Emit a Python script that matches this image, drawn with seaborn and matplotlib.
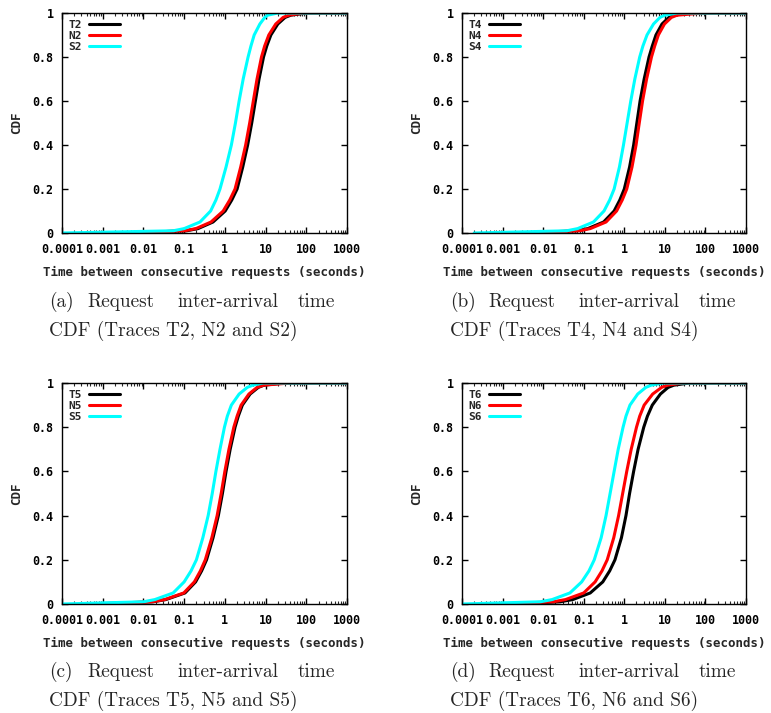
import numpy as np
import pandas as pd
import matplotlib
matplotlib.use("Agg")
import matplotlib.pyplot as plt
import seaborn as sns
from matplotlib.ticker import LogLocator, NullFormatter, FixedLocator

# ---------------- data ----------------
# CDF levels at which the inter-arrival times (seconds) were read
cdf_levels = [0.0, 0.01, 0.02, 0.05, 0.1, 0.15, 0.2, 0.3, 0.4, 0.5, 0.6, 0.7,
              0.8, 0.85, 0.9, 0.95, 0.98, 0.99, 1.0, 1.0]

# Panel (a)
T2 = [0.00316, 0.115, 0.219, 0.513, 1.02, 1.48, 2.0, 2.75, 3.63, 4.57, 5.62, 6.92,
      8.91, 10.7, 13.5, 20, 30.2, 41.7, 100, 1000]
N2 = [0.005, 0.102, 0.195, 0.457, 0.91, 1.32, 1.78, 2.45, 3.24, 4.07, 5.0, 6.17,
      7.94, 9.5, 12.0, 17.8, 27, 37, 90, 1000]
S2 = [0.0001, 0.0537, 0.1, 0.245, 0.447, 0.603, 0.759, 1.07, 1.445, 1.82, 2.24, 2.82,
      3.72, 4.37, 5.25, 7.24, 9.55, 11.2, 20, 1000]
# Panel (b)
T4 = [0.00316, 0.0676, 0.126, 0.309, 0.562, 0.776, 1.0, 1.35, 1.70, 2.04, 2.45, 3.09,
      4.07, 4.9, 6.03, 8.51, 12.6, 16.6, 40, 1000]
N4 = [0.005, 0.0776, 0.145, 0.355, 0.646, 0.891, 1.15, 1.55, 1.95, 2.34, 2.82, 3.55,
      4.68, 5.62, 6.92, 9.77, 14.5, 20, 87, 1000]
S4 = [0.0002, 0.038, 0.0708, 0.174, 0.316, 0.437, 0.562, 0.759, 0.955, 1.175, 1.445, 1.82,
      2.4, 2.88, 3.63, 5.25, 7.59, 10, 20, 1000]
# Panel (c)
T5 = [0.0005, 0.0174, 0.0355, 0.105, 0.191, 0.269, 0.355, 0.513, 0.692, 0.871, 1.07, 1.35,
      1.78, 2.14, 2.69, 4.17, 6.61, 9.12, 27, 1000]
N5 = [0.0015, 0.0162, 0.0331, 0.098, 0.178, 0.251, 0.331, 0.479, 0.646, 0.813, 1.0, 1.26,
      1.66, 2.0, 2.51, 3.89, 6.17, 8.9, 40, 1000]
S5 = [0.0001, 0.01, 0.019, 0.0537, 0.1, 0.148, 0.2, 0.288, 0.389, 0.49, 0.603, 0.759,
      0.977, 1.15, 1.445, 2.24, 3.55, 4.79, 8.7, 1000]
# Panel (d)
T6 = [0.0025, 0.0263, 0.0537, 0.145, 0.295, 0.437, 0.589, 0.851, 1.10, 1.35, 1.70, 2.19,
      3.02, 3.72, 4.9, 7.76, 12.0, 16.6, 40, 1000]
N6 = [0.001, 0.0178, 0.0355, 0.1, 0.191, 0.282, 0.38, 0.55, 0.724, 0.912, 1.15, 1.48,
      2.0, 2.4, 3.09, 5.01, 8.32, 11.5, 28, 1000]
S6 = [0.0001, 0.0085, 0.0166, 0.0457, 0.0891, 0.135, 0.182, 0.269, 0.355, 0.447, 0.562, 0.708,
      0.933, 1.10, 1.38, 2.14, 3.39, 4.57, 9.1, 1000]

x_tick_values = [0.0001, 0.001, 0.01, 0.1, 1, 10, 100, 1000]
x_tick_labels = ["0.0001", "0.001", "0.01", "0.1", "1", "10", "100", "1000"]
y_tick_values = [0, 0.2, 0.4, 0.6, 0.8, 1.0]
y_tick_labels = ["0", "0.2", "0.4", "0.6", "0.8", "1"]

panels = [
    {"names": ["T2", "N2", "S2"], "series": [T2, N2, S2], "tag": "(a)"},
    {"names": ["T4", "N4", "S4"], "series": [T4, N4, S4], "tag": "(b)"},
    {"names": ["T5", "N5", "S5"], "series": [T5, N5, S5], "tag": "(c)"},
    {"names": ["T6", "N6", "S6"], "series": [T6, N6, S6], "tag": "(d)"},
]
colors = ["#000000", "#ff0000", "#00ffff"]

# ---------------- style ----------------
sns.set_style("ticks")
plt.rcParams["font.family"] = ["DejaVu Sans Mono"]
mono = {"family": "DejaVu Sans Mono", "weight": "bold"}

W, H = 771, 713
fig = plt.figure(figsize=(W / 100, H / 100), dpi=100)

# axes boxes in pixels: (left, top, right, bottom)
boxes = [(62, 13, 347, 233), (462, 13, 746, 233),
         (62, 383, 347, 604), (462, 383, 746, 604)]
caption_left = [49, 450, 49, 450]
caption_base = [(307, 336), (307, 336), (677, 706), (677, 706)]

def fx(px):
    return px / W

def fy(py):
    return 1 - py / H

for p, (l, t, r, b), cl, (b1, b2) in zip(panels, boxes, caption_left, caption_base):
    ax = fig.add_axes([fx(l), fy(b), (r - l) / W, (b - t) / H])
    frames = []
    for name, vals in zip(p["names"], p["series"]):
        frames.append(pd.DataFrame({"x": vals, "cdf": cdf_levels, "trace": name}))
    df = pd.concat(frames, ignore_index=True)
    sns.lineplot(data=df, x="x", y="cdf", hue="trace", hue_order=p["names"],
                 palette=colors, estimator=None, sort=False, linewidth=2.2,
                 legend=False, ax=ax)
    for ln in ax.lines:
        ln.set_solid_joinstyle("round")
    ax.set_xscale("log")
    ax.set_xlim(0.0001, 1000)
    ax.set_ylim(0, 1)
    ax.xaxis.set_major_locator(FixedLocator(x_tick_values))
    ax.set_xticklabels(x_tick_labels)
    ax.xaxis.set_minor_locator(LogLocator(base=10, subs=np.arange(2, 10), numticks=20))
    ax.xaxis.set_minor_formatter(NullFormatter())
    ax.set_yticks(y_tick_values)
    ax.set_yticklabels(y_tick_labels)
    ax.tick_params(which="major", direction="in", length=4, width=1, top=True, right=True,
                   labelsize=8.4, colors="black")
    ax.tick_params(axis="x", which="major", pad=7.5)
    ax.tick_params(axis="y", which="major", pad=6)
    ax.tick_params(which="minor", direction="in", length=2, width=0.8, top=True, right=True)
    for lab in ax.get_xticklabels() + ax.get_yticklabels():
        lab.set_fontweight("bold")
        lab.set_family("DejaVu Sans Mono")
    for sp in ax.spines.values():
        sp.set_linewidth(1.0)
        sp.set_color("black")
    ax.set_xlabel("Time between consecutive requests (seconds)", fontdict=mono,
                  fontsize=9, labelpad=6.5)
    ax.set_ylabel("CDF", fontdict=mono, fontsize=9, labelpad=7)
    ax.legend(ax.lines[:3], p["names"], loc="upper left", bbox_to_anchor=(0.0, 1.0),
              frameon=False, markerfirst=False, handlelength=2.8,
              labelspacing=0.12, borderaxespad=0.2, handletextpad=0.6,
              prop={"family": "DejaVu Sans Mono", "weight": "bold", "size": 8})

    # captions (justified first line)
    cap = {"family": "cmr10", "size": 13.9}
    fig.text(fx(cl), fy(b1), p["tag"], ha="left", va="baseline", **cap)
    fig.text(fx(cl + 38), fy(b1), "Request", ha="left", va="baseline", **cap)
    fig.text(fx(cl + 128), fy(b1), "inter-arrival", ha="left", va="baseline", **cap)
    fig.text(fx(cl + 286), fy(b1), "time", ha="right", va="baseline", **cap)
    n = p["names"]
    fig.text(fx(cl), fy(b2), f"CDF (Traces {n[0]}, {n[1]} and {n[2]})",
             ha="left", va="baseline", **cap)

fig.savefig("out.png", dpi=100)
